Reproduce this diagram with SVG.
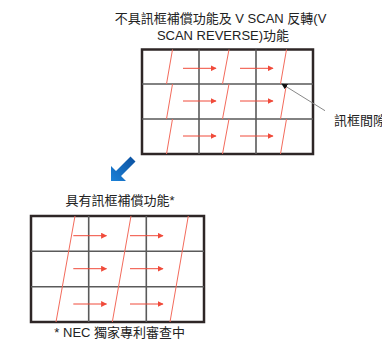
<svg xmlns="http://www.w3.org/2000/svg" width="382" height="340" viewBox="0 0 382 340">
<defs>
<style>
text{font-family:"Liberation Sans","Noto Sans CJK TC",sans-serif;font-size:13px;fill:#222}
.outer{fill:#fff;stroke:#2e2626;stroke-width:2.5}
.grid{stroke:#5a5a5a;stroke-width:1.6;fill:none}
.scan{stroke:#f36b5c;stroke-width:1;fill:none}
.mv line{stroke:#f04a3a;stroke-width:1;fill:none;marker-end:url(#rh)}
</style>
<marker id="rh" viewBox="0 0 10 10" refX="9" refY="5" markerWidth="6" markerHeight="6" markerUnits="userSpaceOnUse" orient="auto">
<path d="M0,0 L10,5 L0,10 z" fill="#f04a3a"/>
</marker>
<marker id="bh" viewBox="0 0 10 10" refX="1" refY="5" markerWidth="6" markerHeight="6" markerUnits="userSpaceOnUse" orient="auto-start-reverse">
<path d="M0,0 L10,5 L0,10 z" fill="#111"/>
</marker>
<linearGradient id="bg" x1="0" y1="1" x2="1" y2="0">
<stop offset="0" stop-color="#1c82d8"/>
<stop offset="1" stop-color="#0b4f9e"/>
</linearGradient>
</defs>

<g id="title">
<text x="220.5" y="22.5" text-anchor="middle">不具訊框補償功能及 V SCAN 反轉(V</text>
<text x="223" y="39.5" text-anchor="middle">SCAN REVERSE)功能</text>
</g>

<g id="grid-top">
<rect class="outer" x="142" y="49.5" width="171" height="104.5"/>
<path class="grid" d="M199,49.5V154M256,49.5V154M142,84H313M142,119H313"/>
<path class="scan" d="M172.5,49.5L166.5,84M172.5,84L166.5,119M172.5,119L166.5,154M229,49.5L222.5,84M229,84L222.5,119M229,119L222.5,154M286.5,49.5L280.5,84M286.5,84L280.5,119M286.5,119L280.5,154"/>
<g class="mv">
<line x1="183" y1="68.3" x2="216" y2="68.3"/><line x1="240" y1="68.3" x2="273" y2="68.3"/>
<line x1="183" y1="101" x2="216" y2="101"/><line x1="240" y1="101" x2="273" y2="101"/>
<line x1="183" y1="136" x2="216" y2="136"/><line x1="240" y1="136" x2="273" y2="136"/>
</g>
</g>

<g id="callout">
<line x1="286" y1="86.5" x2="325" y2="110.7" stroke="#888" stroke-width="1" marker-start="url(#bh)"/>
<text x="334" y="124.5">訊框間隙</text>
</g>

<g id="blue-arrow">
<polygon points="111,181 111,166 116,171 130.5,156.5 135.5,161.5 121,176 126,181" fill="url(#bg)"/>
</g>

<g id="label-mid">
<text x="120" y="205" text-anchor="middle">具有訊框補償功能*</text>
</g>

<g id="grid-bottom">
<rect class="outer" x="31" y="216" width="173" height="106"/>
<path class="grid" d="M88.7,216V322M146.3,216V322M31,251.3H204M31,286.7H204"/>
<path class="scan" d="M75,216L56,322M131,216L112.3,322M188.3,216L170,322"/>
<g class="mv">
<line x1="73.3" y1="235.7" x2="106.5" y2="235.7"/><line x1="130" y1="235.7" x2="163" y2="235.7"/>
<line x1="73.3" y1="268.7" x2="106.5" y2="268.7"/><line x1="130" y1="268.7" x2="163" y2="268.7"/>
<line x1="73.3" y1="304" x2="106.5" y2="304"/><line x1="130" y1="304" x2="163" y2="304"/>
</g>
</g>

<g id="footnote">
<text x="119.7" y="336.5" text-anchor="middle">* NEC 獨家專利審查中</text>
</g>
</svg>
